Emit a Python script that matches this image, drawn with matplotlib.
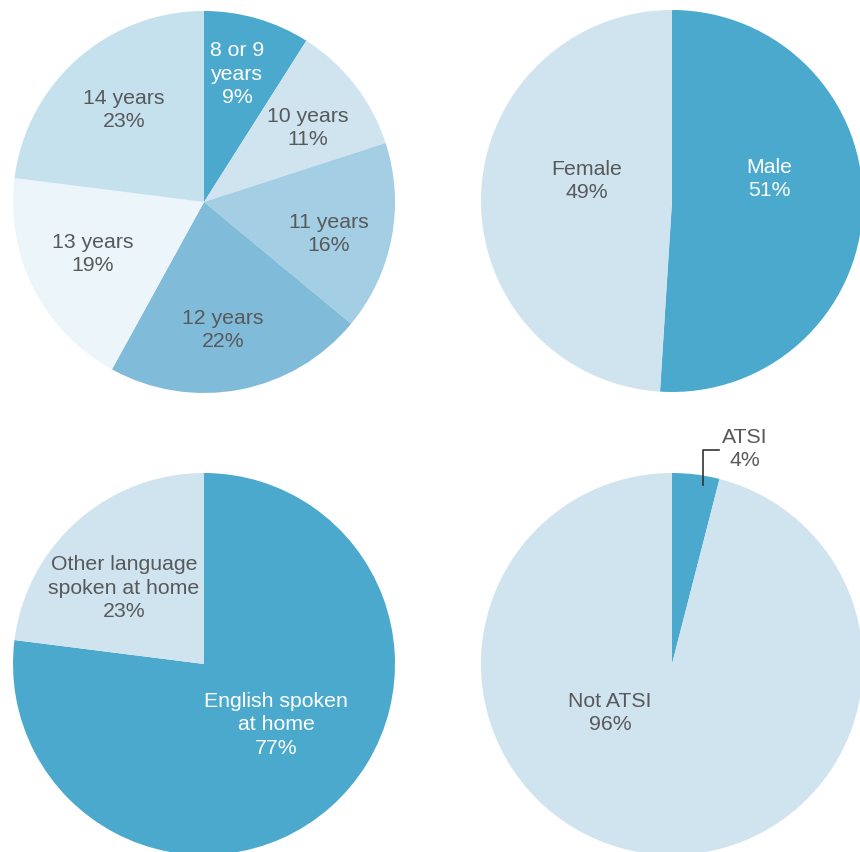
import matplotlib
matplotlib.use("Agg")
import matplotlib.pyplot as plt

plt.rcParams['font.family'] = ['Liberation Sans', 'DejaVu Sans']

# ====== Data ======
age_labels = ["8 or 9\nyears\n9%", "10 years\n11%", "11 years\n16%",
              "12 years\n22%", "13 years\n19%", "14 years\n23%"]
age_values = [9, 11, 16, 22, 19, 23]

sex_labels = ["Male\n51%", "Female\n49%"]
sex_values = [51, 49]

lang_labels = ["English spoken\nat home\n77%", "Other language\nspoken at home\n23%"]
lang_values = [77, 23]

atsi_labels = ["ATSI\n4%", "Not ATSI\n96%"]
atsi_values = [4, 96]

# ====== Styling ======
DARK = "#4aa9cd"
LIGHT = "#cfe4ef"
GREY = "#58595b"
age_colors = [DARK, "#cfe4ef", "#a3cee3", "#80bcd9", "#ecf5fa", "#c6e1ee"]
age_text = ["white", GREY, GREY, GREY, GREY, GREY]

W, H = 860, 852
R = 191
FS = 15.3
LS = 1.28

fig = plt.figure(figsize=(W / 100, H / 100), dpi=100)
ax = fig.add_axes([0, 0, 1, 1])


def draw_pie(values, colors, cx, cy, labels, label_pos, text_colors):
    # cy is measured from the top of the figure
    ax.pie(values, colors=colors, startangle=90, counterclock=False,
           center=(cx, H - cy), radius=R,
           wedgeprops=dict(linewidth=0))
    for lab, (lx, ly), tc in zip(labels, label_pos, text_colors):
        if lab is None:
            continue
        ax.text(lx, H - ly, lab, ha="center", va="center", color=tc,
                fontsize=FS, linespacing=LS)


# age
draw_pie(age_values, age_colors, 204, 202, age_labels,
         [(237, 74), (308, 128), (329, 234), (223, 330), (93, 254), (124, 110)],
         age_text)

# sex
draw_pie(sex_values, [DARK, LIGHT], 672, 201, sex_labels,
         [(769, 179), (587, 181)], ["white", GREY])

# language at home
draw_pie(lang_values, [DARK, LIGHT], 204, 664, lang_labels,
         [(276, 725), (124, 588)], ["white", GREY])

# ATSI, small slice labelled outside with a leader line
draw_pie(atsi_values, [DARK, LIGHT], 672, 664, [None, atsi_labels[1]],
         [(0, 0), (610, 713)], [GREY, GREY])
ax.text(745, H - 449, atsi_labels[0], ha="center", va="center", color=GREY,
        fontsize=FS, linespacing=LS)
ax.plot([719, 703, 703], [H - 450, H - 450, H - 485], color="#333333", lw=1.2)

ax.set_xlim(0, W)
ax.set_ylim(0, H)
ax.set_aspect("equal")
ax.axis("off")

fig.savefig("out.png", dpi=100)
